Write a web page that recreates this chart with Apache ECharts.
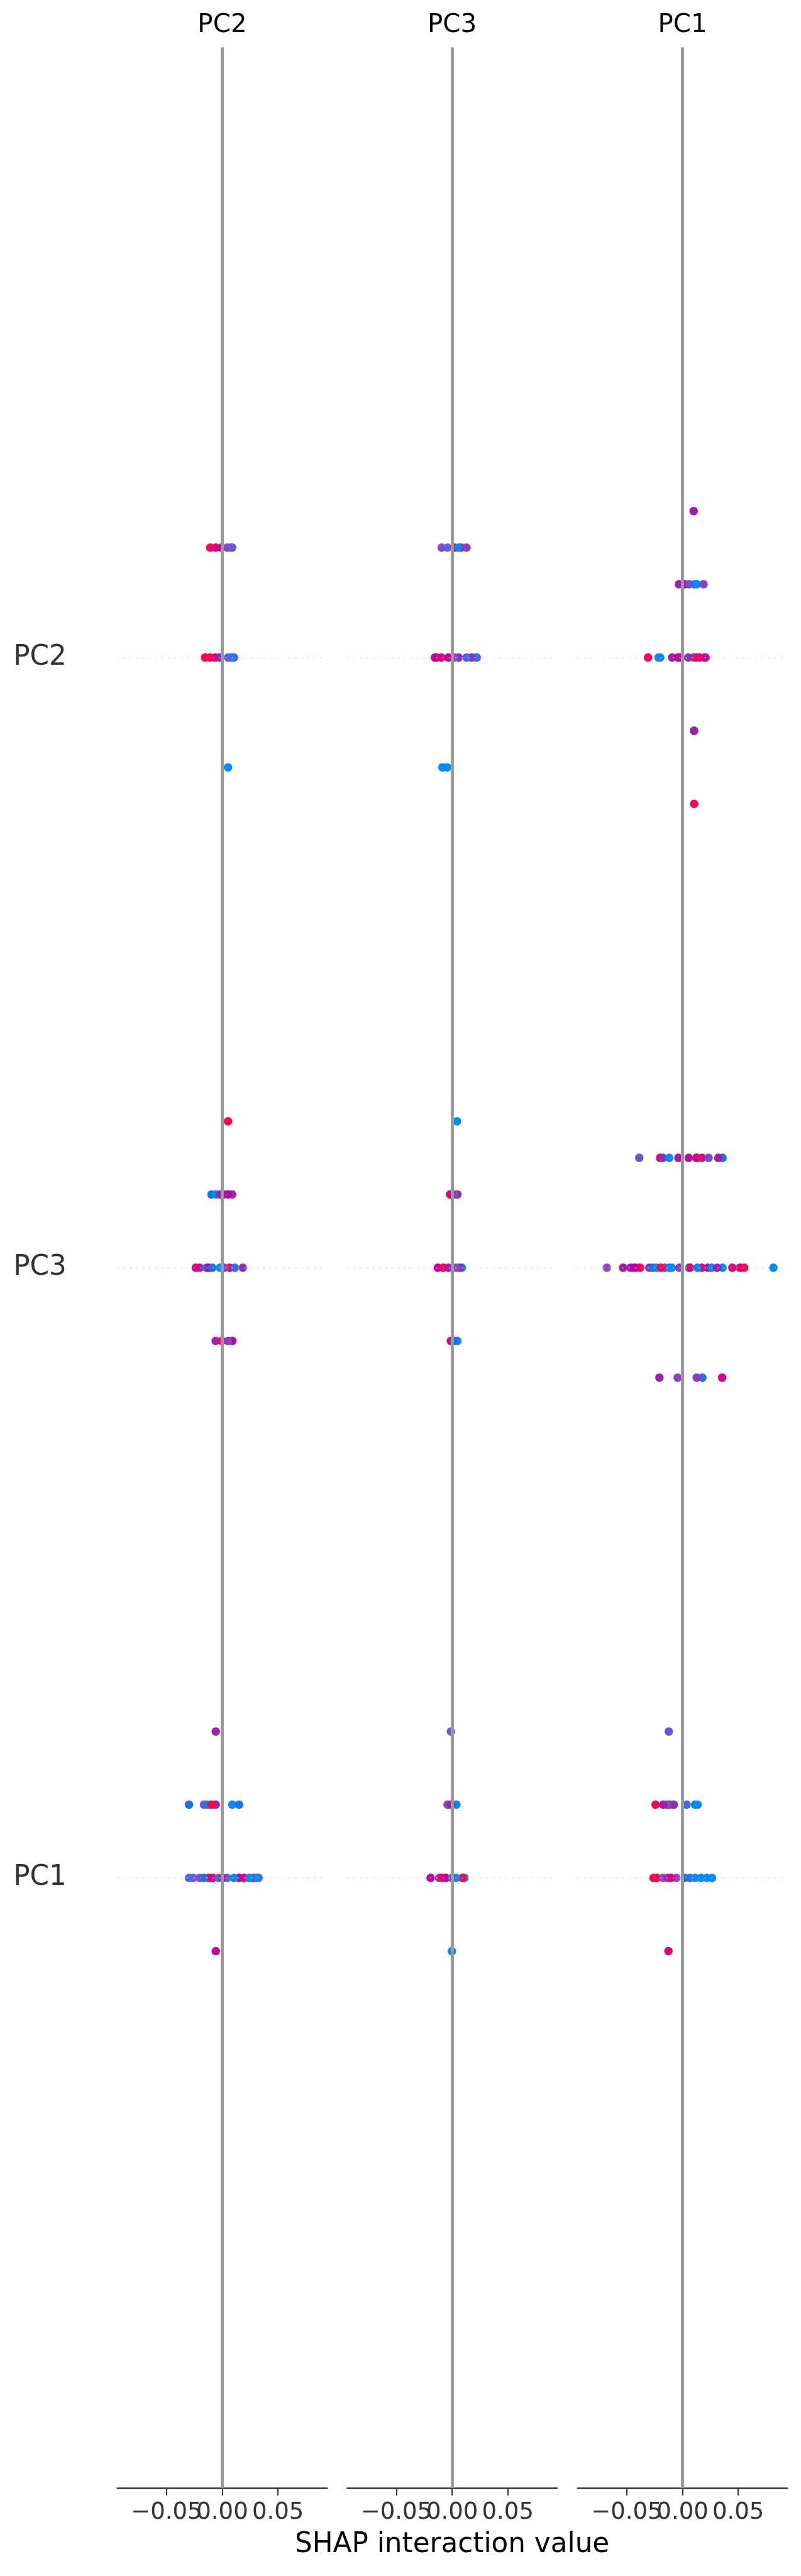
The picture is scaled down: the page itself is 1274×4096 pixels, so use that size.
<!DOCTYPE html>
<html><head><meta charset="utf-8">
<script src="https://cdn.jsdelivr.net/npm/echarts/dist/echarts.min.js"></script>
<style>html,body{margin:0;padding:0;background:#fff}#c{width:1274px;height:4096px}</style>
</head><body><div id="c"></div>
<script>
// ---------------- data ----------------
const colFeatures = ['PC2', 'PC3', 'PC1'];          // panel titles, left to right
const rowFeatures = ['PC2', 'PC3', 'PC1'];          // row labels, top to bottom
const xTicks = [-0.05, 0, 0.05];
const xRange = [-0.094, 0.094];
const yRange = [-1, 3];
const xTitle = 'SHAP interaction value';
// points: [SHAP interaction value, swarm layer, feature value (0 low .. 1 high)]
const panelPC2_rowPC2 = [[-0.0108,1,1.0],[-0.0059,1,0.87],[-0.0009,1,0.72],[0.0044,1,0.42],[0.0075,1,0.38],[0.009,1,0.3],
  [-0.0154,0,1.0],[-0.0108,0,1.0],[-0.0063,0,0.87],[-0.0024,0,0.57],[0.0105,0,0.42],[0.0082,0,0.0],[0.0052,0,0.2],
  [0.0052,-1,0.0]];
const panelPC2_rowPC3 = [[0.0052,2,1.0],
  [-0.0096,1,0.1],[-0.0055,1,0.0],[0.009,1,0.5],[0.0052,1,0.72],[0.0014,1,0.63],[-0.0017,1,0.57],
  [-0.0202,0,0.57],[-0.0237,0,0.87],[-0.0142,0,0.0],[-0.0123,0,0.72],[-0.009,0,0.1],[0.0067,0,1.0],[0.0021,0,0.42],[-0.002,0,0.0],[0.0113,0,0.12],[0.0184,0,0.5],
  [-0.0059,-1,0.57],[-0.0005,-1,1.0],[0.009,-1,0.72],[0.0052,-1,0.45]];
const panelPC2_rowPC1 = [[-0.0058,2,0.57],
  [-0.0298,1,0.1],[-0.0164,1,0.28],[-0.0131,1,0.05],[-0.0059,1,0.57],[-0.0096,1,1.0],[0.009,1,0.0],[0.0151,1,0.08],
  [-0.0298,0,0.2],[-0.026,0,0.28],[-0.0202,0,0.42],[-0.0123,0,1.0],[-0.0085,0,0.87],[-0.0164,0,0.1],[-0.0032,0,0.2],[0.0044,0,0.28],[0.0003,0,0.57],
  [0.0196,0,1.0],[0.028,0,1.0],[0.0151,0,0.72],[0.0105,0,0.0],[0.0242,0,0.0],[0.0326,0,0.35],[0.031,0,0.0],
  [-0.0058,-1,0.72]];
const panelPC3_rowPC2 = [[-0.0094,1,0.38],[-0.0041,1,0.28],[0.002,1,1.0],[0.0081,1,1.0],[0.0058,1,0.0],[0.0129,1,0.45],
  [0.022,0,1.0],[0.021,0,0.0],[0.0172,0,0.5],[0.0129,0,0.2],[0.0058,0,0.5],[0.002,0,0.42],[-0.0155,0,0.57],[-0.014,0,0.72],[-0.0097,0,0.9],[-0.0033,0,0.72],
  [-0.0087,-1,0.0],[-0.0044,-1,0.0]];
const panelPC3_rowPC3 = [[0.0043,2,0.0],
  [0.0047,1,0.57],[0.002,1,0.38],[-0.0018,1,0.87],
  [0.0088,0,0.0],[0.0065,0,0.5],[0.0035,0,0.42],[-0.0128,0,0.72],[-0.0079,0,1.0],[-0.0033,0,0.6],
  [-0.0011,-1,0.87],[0.0047,-1,0.0],[0.0017,-1,0.1]];
const panelPC3_rowPC1 = [[-0.0011,2,0.28],
  [0.0038,1,0.0],[-0.0041,1,0.42],[-0.0011,1,0.57],
  [-0.0193,0,0.72],[0.0111,0,0.0],[0.0093,0,1.0],[0.0035,0,0.0],[-0.0117,0,0.35],[-0.0094,0,1.0],[-0.0056,0,0.72],[-0.0003,0,0.35],
  [-0.0002,-1,0.0]];
const panelPC1_rowPC2 = [[0.01,2,0.63],
  [-0.0032,1,0.57],[0.0021,1,0.68],[0.0128,1,0.0],[0.0105,1,0.0],[0.0059,1,0.35],[0.0189,1,0.45],
  [-0.0309,0,1.0],[-0.0215,0,0.28],[-0.02,0,0.0],[-0.0093,0,0.57],[-0.004,0,0.72],[-0.0017,0,0.72],[0.0097,0,0.15],[0.0052,0,0.5],[0.0207,0,1.0],[0.0196,0,0.63],[0.0151,0,0.87],[0.0125,0,0.95],
  [0.0103,-1,0.0],[0.0105,-1,0.57],
  [0.0105,-2,1.0]];
const panelPC1_rowPC3 = [[-0.0388,1,0.35],[-0.02,1,0.87],[-0.0177,1,0.5],[-0.0119,1,0.0],[-0.0037,1,0.63],[0.0055,1,0.63],[0.0174,1,0.87],[0.013,1,0.42],[0.0125,1,0.9],[0.0234,1,0.35],[0.0359,1,0.1],[0.0321,1,0.57],
  [-0.0679,0,0.42],[-0.0533,0,0.63],[-0.0466,0,0.57],[-0.0405,0,0.0],[-0.038,0,1.0],[-0.0431,0,0.72],[-0.0298,0,0.5],[-0.0268,0,0.1],[-0.0234,0,0.0],[-0.0158,0,0.45],[-0.0195,0,1.0],[-0.0116,0,0.1],[-0.0097,0,0.0],[-0.0029,0,0.45],
  [0.0059,0,0.0],[0.0067,0,0.87],[0.0174,0,1.0],[0.0135,0,0.05],[0.0227,0,0.63],[0.0262,0,0.0],[0.0359,0,0.0],[0.031,0,0.57],[0.0447,0,0.87],[0.0516,0,0.8],[0.0554,0,1.0],[0.0816,0,0.0],
  [-0.0207,-1,0.57],[-0.0043,-1,0.45],[0.0178,-1,0.1],[0.0128,-1,0.45],[0.0356,-1,0.8]];
const panelPC1_rowPC1 = [[-0.0123,2,0.35],
  [-0.0242,1,1.0],[-0.0116,1,1.0],[-0.0078,1,0.5],[-0.0138,1,0.35],[-0.0174,1,0.57],[0.0037,1,0.2],[0.0113,1,0.05],[0.0135,1,0.0],
  [-0.026,0,1.0],[-0.023,0,1.0],[-0.0174,0,0.42],[-0.0131,0,0.5],[-0.0055,0,0.42],[-0.0104,0,0.87],[0.0067,0,0.2],[0.0021,0,0.1],[0.0113,0,0.0],[0.0166,0,0.0],[0.0219,0,0.0],[0.0265,0,0.0],
  [-0.0126,-1,0.87]];

const cells = [
  [panelPC2_rowPC2, panelPC2_rowPC3, panelPC2_rowPC1],
  [panelPC3_rowPC2, panelPC3_rowPC3, panelPC3_rowPC1],
  [panelPC1_rowPC2, panelPC1_rowPC3, panelPC1_rowPC1]
];

// ---------------- style / layout ----------------
const S = 1274 / 1575;
const FONT = 'DejaVu Sans';
const panelLeft = [231, 683, 1136];
const panelW = 412, plotTop = 93, plotBottom = 4891;
const colorStops = [[0,'#008bfb'],[0.1,'#1a72ea'],[0.2,'#4868e0'],[0.28,'#6060e0'],[0.35,'#7050d0'],[0.42,'#8848c8'],
  [0.5,'#9030b0'],[0.57,'#a020a8'],[0.63,'#a818a8'],[0.72,'#c000a0'],[0.8,'#d0008a'],[0.87,'#e0007a'],[1,'#ff0052']];
function hex(h){return [1,3,5].map(i=>parseInt(h.slice(i,i+2),16));}
function colorOf(f){
  for(let i=1;i<colorStops.length;i++){
    if(f<=colorStops[i][0]){
      const [a,ca]=colorStops[i-1],[b,cb]=colorStops[i];
      const t=(f-a)/(b-a), A=hex(ca), B=hex(cb);
      return 'rgb('+A.map((v,k)=>Math.round(v+(B[k]-v)*t)).join(',')+')';
    }
  }
  return colorStops[colorStops.length-1][1];
}
const fmtTick = v => (v < 0 ? '\u2212' : '') + Math.abs(v).toFixed(2);
const tickLabelStyle = {fontFamily:FONT, fontSize:37, color:'#333333', margin:21, hideOverlap:false, showMinLabel:true, showMaxLabel:true};

const grid = [], xAxis = [], yAxis = [], series = [], graphic = [];
colFeatures.forEach((name, c) => {
  grid.push({left: panelLeft[c]*S, width: panelW*S, top: plotTop*S, height: (plotBottom-plotTop)*S, containLabel: false});
  // main x axis: line, all ticks, outer labels
  xAxis.push({type:'value', gridIndex:c, min:xRange[0], max:xRange[1], position:'bottom',
    axisLine:{show:true, onZero:false, lineStyle:{color:'#333333', width:2.7}},
    axisTick:{show:true, customValues:xTicks, length:11.8, lineStyle:{color:'#333333', width:2}},
    axisLabel:Object.assign({show:true, customValues:xTicks.filter(v=>v!==0), formatter:fmtTick}, tickLabelStyle),
    splitLine:{show:false}});
  yAxis.push({type:'value', gridIndex:c, min:yRange[0], max:yRange[1], position:'left',
    axisLine:{show:false, onZero:false}, axisTick:{show:false}, splitLine:{show:false},
    axisLabel:{show:c===0, customValues:rowFeatures.map((_,i)=>rowFeatures.length-1-i),
      formatter:v=>rowFeatures[rowFeatures.length-1-v], fontFamily:FONT, fontSize:43.7, color:'#333333', margin:81,
      showMinLabel:true, showMaxLabel:true}});
  // zero line and dotted row guides
  series.push({type:'line', xAxisIndex:c, yAxisIndex:c, data:[], z:1, silent:true,
    markLine:{silent:true, symbol:['none','none'], label:{show:false}, animation:false,
      data:[{xAxis:0, lineStyle:{color:'#999999', width:5, type:'solid'}}]
        .concat(rowFeatures.map((_,i)=>({yAxis:rowFeatures.length-1-i, lineStyle:{color:'#cccccc', width:1.7, type:[1.7,8.4]}})))}});
  cells[c].forEach((pts, r) => {
    const pos = rowFeatures.length - 1 - r;
    const step = 0.36 / (Math.max(...pts.map(p=>p[1])) + 1);
    series.push({type:'scatter', xAxisIndex:c, yAxisIndex:c, z:3, symbolSize:13.5,
      data: pts.map(p=>[p[0], pos + p[1]*step, p[2]]),
      itemStyle:{opacity:1, color:p=>colorOf(p.value[2])}, silent:true});
  });
  graphic.push({type:'text', x:(panelLeft[c]+panelW/2)*S, y:49.5*S,
    style:{text:name, fontFamily:FONT, fontSize:40.4, fill:'#000000', align:'center', verticalAlign:'middle'}});
});
// overlay x axes carrying the centre tick label (kept separate so overlapping labels are not dropped)
colFeatures.forEach((name, c) => {
  xAxis.push({type:'value', gridIndex:c, min:xRange[0], max:xRange[1], position:'bottom', offset:0,
    axisLine:{show:false, onZero:false}, axisTick:{show:false}, splitLine:{show:false},
    axisLabel:Object.assign({show:true, customValues:xTicks.filter(v=>v===0), formatter:fmtTick}, tickLabelStyle)});
});
graphic.push({type:'text', x:(panelLeft[1]+panelW/2)*S, y:5003*S,
  style:{text:xTitle, fontFamily:FONT, fontSize:43.7, fill:'#000000', align:'center', verticalAlign:'middle'}});

const chart = echarts.init(document.getElementById('c'), null, {renderer:'canvas'});
chart.setOption({backgroundColor:'#ffffff', animation:false, grid, xAxis, yAxis, series, graphic});
</script></body></html>
